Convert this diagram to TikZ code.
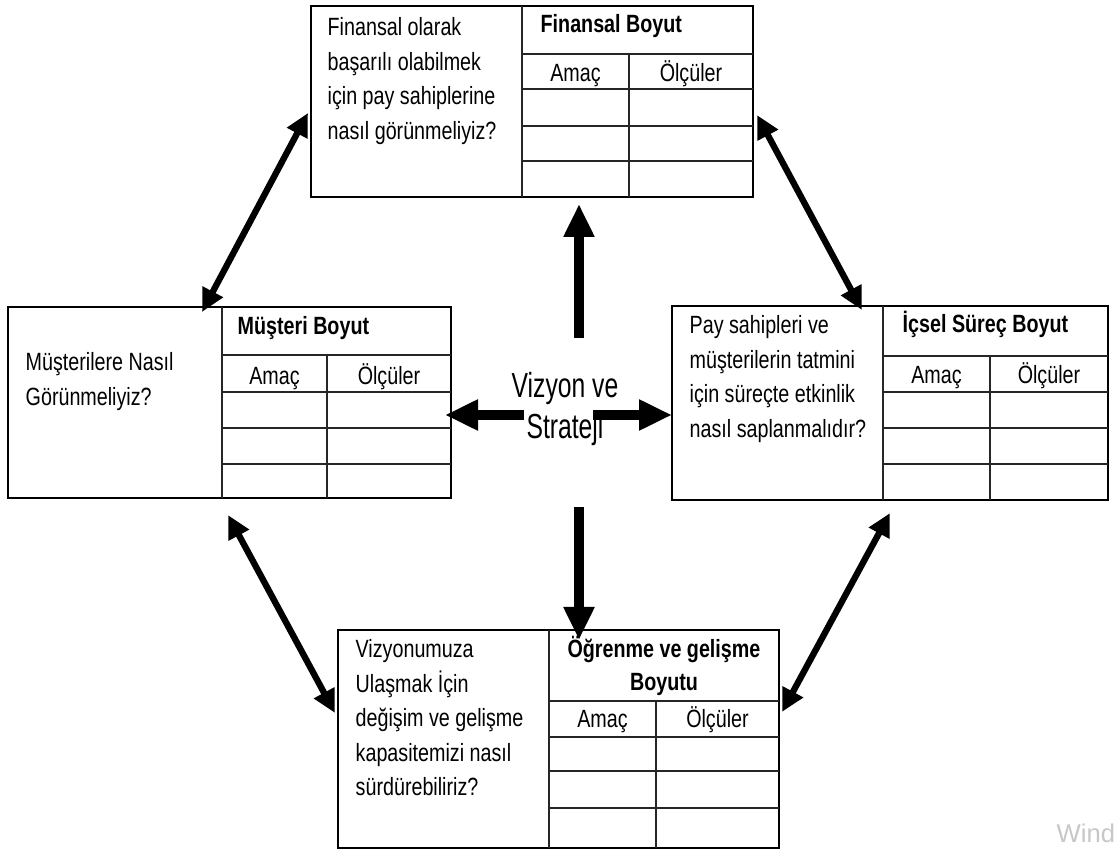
\documentclass[tikz,border=0pt]{standalone}
\usepackage{fontspec}
\setmainfont[FakeStretch=0.79]{Liberation Sans}
\newfontfamily\vizfont[FakeStretch=0.71]{Liberation Sans}
\newfontfamily\wmfont{Liberation Sans}
\usetikzlibrary{arrows.meta}

\tikzset{
  boxline/.style={draw=black, line width=0.55pt},
  cellline/.style={draw=black!85, line width=0.45pt},
  question/.style={anchor=north west, align=left, inner sep=0pt,
    font=\fontsize{7.1}{9.8}\selectfont},
  boxtitle/.style={anchor=base west, inner sep=0pt,
    font=\fontsize{7.1}{9.4}\selectfont\bfseries},
  colhead/.style={anchor=base, inner sep=0pt, font=\fontsize{7.1}{9.8}\selectfont},
  bigarrow/.style={line width=2.6pt, -{Triangle[length=0.33cm,width=0.29cm]}},
  linkarrow/.style={line width=1.8pt,
    {Triangle[length=0.23cm,width=0.22cm]}-{Triangle[length=0.23cm,width=0.22cm]}},
}

\begin{document}
\begin{tikzpicture}
            \useasboundingbox (0,0) rectangle (11.16,8.51);

            % Define points
            \coordinate (vizN) at (5.79,5.13);
            \coordinate (finS) at (5.79,6.47);
            \coordinate (vizW) at (5.24,4.36);
            \coordinate (musE) at (4.45,4.36);
            \coordinate (vizE) at (5.93,4.36);
            \coordinate (icsW) at (6.72,4.36);
            \coordinate (vizS) at (5.79,3.44);
            \coordinate (ogrN) at (5.79,2.11);
            \coordinate (finW) at (3.08,7.38);
            \coordinate (musN) at (2.02,5.39);
            \coordinate (finE) at (7.57,7.36);
            \coordinate (icsN) at (8.62,5.41);
            \coordinate (musS) at (2.28,3.36);
            \coordinate (ogrW) at (3.35,1.38);
            \coordinate (icsS) at (8.90,3.38);
            \coordinate (ogrE) at (7.82,1.39);

            % Draw financial table (top)
            \draw[boxline] (3.11,6.54) rectangle (7.53,8.45);
            \draw[cellline] (5.22,6.54) -- (5.22,8.45);
            \draw[cellline] (5.22,7.97) -- (7.53,7.97);
            \draw[cellline] (6.29,6.54) -- (6.29,7.97);
            \foreach \y in {7.62,7.25,6.90}
                \draw[cellline] (5.22,\y) -- (7.53,\y);

            % Draw customer table (left)
            \draw[boxline] (0.08,3.53) rectangle (4.51,5.44);
            \draw[cellline] (2.22,3.53) -- (2.22,5.44);
            \draw[cellline] (2.22,4.96) -- (4.51,4.96);
            \draw[cellline] (3.27,3.53) -- (3.27,4.96);
            \foreach \y in {4.59,4.23,3.87}
                \draw[cellline] (2.22,\y) -- (4.51,\y);

            % Draw internal process table (right)
            \draw[boxline] (6.72,3.51) rectangle (11.08,5.45);
            \draw[cellline] (8.83,3.51) -- (8.83,5.45);
            \draw[cellline] (8.83,4.95) -- (11.08,4.95);
            \draw[cellline] (9.90,3.51) -- (9.90,4.95);
            \foreach \y in {4.59,4.23,3.87}
                \draw[cellline] (8.83,\y) -- (11.08,\y);

            % Draw learning table (bottom)
            \draw[boxline] (3.38,0.03) rectangle (7.79,2.21);
            \draw[cellline] (5.49,0.03) -- (5.49,2.21);
            \draw[cellline] (5.49,1.50) -- (7.79,1.50);
            \draw[cellline] (6.56,0.03) -- (6.56,1.50);
            \foreach \y in {1.14,0.80,0.43}
                \draw[cellline] (5.49,\y) -- (7.79,\y);

            % Label questions
            \node[question] (finQ) at (3.27,8.34) {Finansal olarak\\başarılı olabilmek\\için pay sahiplerine\\nasıl görünmeliyiz?};
            \node[question] (musQ) at (0.25,4.99) {Müşterilere Nasıl\\Görünmeliyiz?};
            \node[question] (icsQ) at (6.89,5.36) {Pay sahipleri ve\\müşterilerin tatmini\\için süreçte etkinlik\\nasıl saplanmalıdır?};
            \node[question] (ogrQ) at (3.55,2.12) {Vizyonumuza\\Ulaşmak İçin\\değişim ve gelişme\\kapasitemizi nasıl\\sürdürebiliriz?};

            % Label table titles
            \node[boxtitle] (finT) at (5.40,8.18) {Finansal Boyut};
            \node[boxtitle] (musT) at (2.37,5.16) {Müşteri Boyut};
            \node[boxtitle] (icsT) at (9.02,5.18) {İçsel Süreç Boyut};
            \node[anchor=north, align=center, inner sep=0pt,
                  font=\fontsize{7.1}{9.4}\selectfont\bfseries] (ogrT) at (6.64,2.16) {Öğrenme ve gelişme\\Boyutu};

            % Label column heads
            \node[colhead] (finA) at (5.755,7.69) {Amaç};
            \node[colhead] (finO) at (6.91,7.69) {Ölçüler};
            \node[colhead] (musA) at (2.745,4.66) {Amaç};
            \node[colhead] (musO) at (3.89,4.66) {Ölçüler};
            \node[colhead] (icsA) at (9.365,4.67) {Amaç};
            \node[colhead] (icsO) at (10.49,4.67) {Ölçüler};
            \node[colhead] (ogrA) at (6.025,1.23) {Amaç};
            \node[colhead] (ogrO) at (7.175,1.23) {Ölçüler};

            % Draw arrows from the centre
            \draw[bigarrow] (vizN) -- (finS);
            \draw[bigarrow] (vizW) -- (musE);
            \draw[bigarrow] (vizE) -- (icsW);
            \draw[bigarrow] (vizS) -- (ogrN);

            % Draw links between tables
            \draw[linkarrow] (finW) -- (musN);
            \draw[linkarrow] (finE) -- (icsN);
            \draw[linkarrow] (musS) -- (ogrW);
            \draw[linkarrow] (icsS) -- (ogrE);

            % Label centre
            \node[align=center, inner sep=0pt, font=\vizfont\fontsize{9.9}{11.4}\selectfont] (viz) at (5.65,4.42) {Vizyon ve\\Strateji};

            % Watermark
            \node[anchor=base west, inner sep=0pt, text=black!22, font=\wmfont\fontsize{7.3}{9}\selectfont] (wm) at (10.56,0.08) {Wind};
        \end{tikzpicture}
\end{document}
